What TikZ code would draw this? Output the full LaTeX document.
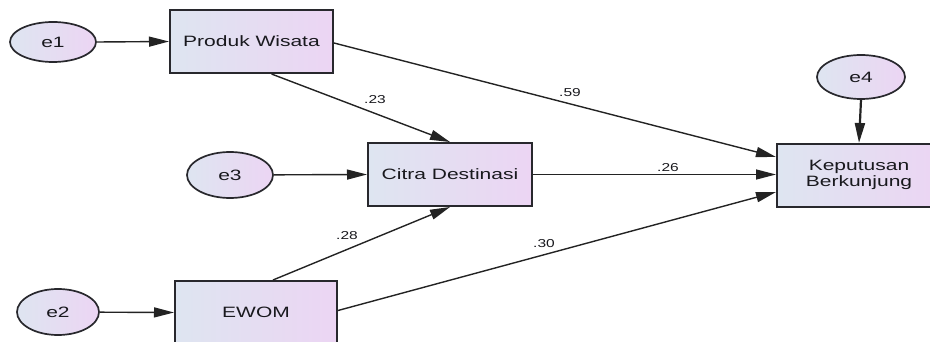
\documentclass[tikz,border=0pt]{standalone}
\usepackage{graphicx}
\usepackage{fontspec}
\setmainfont{Liberation Sans}
\usetikzlibrary{shapes.geometric,arrows.meta,calc}
\definecolor{fillL}{RGB}{222,229,241}
\definecolor{fillR}{RGB}{236,213,243}
\definecolor{boxc}{RGB}{40,40,45}
\definecolor{linec}{RGB}{35,35,35}
\definecolor{txt}{RGB}{25,25,30}
\newcommand{\wtxt}[1]{\scalebox{1.4}[1]{#1}}
\newcommand{\wlbl}[1]{\scalebox{1.35}[1]{#1}}
\tikzset{
  box/.style={draw=boxc, line width=2pt, rectangle, minimum width=163pt,
    minimum height=63pt, left color=fillL, right color=fillR, inner sep=0pt,
    font=\fontsize{15}{15}\selectfont, text=txt},
  err/.style={draw=boxc, line width=1.7pt, ellipse, left color=fillL,
    right color=fillR, inner sep=0pt, font=\fontsize{15}{15}\selectfont, text=txt},
  arr/.style={-{Triangle[length=20pt,width=10pt]}, line width=1.4pt, draw=linec},
  lbl/.style={font=\fontsize{11.5}{11.5}\selectfont, text=txt, inner sep=0pt}
}
\begin{document}
\begin{tikzpicture}[x=1pt,y=-1pt]
\useasboundingbox (0,0) rectangle (930,342);
% nodes
\node[err, minimum width=86pt, minimum height=40pt] (e1) at (53,42) {\wtxt{e1}};
\node[box] (pw) at (251.5,41.5) {\wtxt{Produk Wisata}};
\node[err, minimum width=86pt, minimum height=46pt] (e3) at (230,175) {\wtxt{e3}};
\node[box, minimum width=164pt] (cd) at (450,174.5) {\wtxt{Citra Destinasi}};
\node[err, minimum width=82pt, minimum height=46pt] (e2) at (58,312) {\wtxt{e2}};
\node[box, minimum width=162pt] (ewom) at (256,312.5) {\wtxt{EWOM}};
\node[box, minimum width=164pt] (kb) at (859,175.5) {\wtxt{\begin{tabular}{@{}c@{}}Keputusan\\Berkunjung\end{tabular}}};
\node[err, minimum width=88pt, minimum height=44pt] (e4) at (861,77) {\wtxt{e4}};
% connectors
\draw[arr] (e1.east) -- (pw.west);
\draw[arr] (e3) -- (cd.west);
\draw[arr] (e2) -- (ewom.west);
\draw[arr, line width=2.2pt] (e4.south) -- (kb.north);
\draw[arr] ([xshift=20pt]pw.south) -- (cd.north);
\draw[arr] ([yshift=-1.5pt]pw.east) -- ([yshift=18.5pt]kb.west);
\draw[arr] (cd.east) -- ([yshift=1pt]kb.west);
\draw[arr] ([xshift=17pt]ewom.north) -- (cd.south);
\draw[arr] ([yshift=2pt]ewom.east) -- ([yshift=-16.5pt]kb.west);
% labels
\node[lbl] (l59) at (570,93) {\wlbl{.59}};
\node[lbl] (l23) at (375,100) {\wlbl{.23}};
\node[lbl] (l26) at (668,168) {\wlbl{.26}};
\node[lbl] (l28) at (347,236) {\wlbl{.28}};
\node[lbl] (l30) at (544,244) {\wlbl{.30}};
\end{tikzpicture}
\end{document}
